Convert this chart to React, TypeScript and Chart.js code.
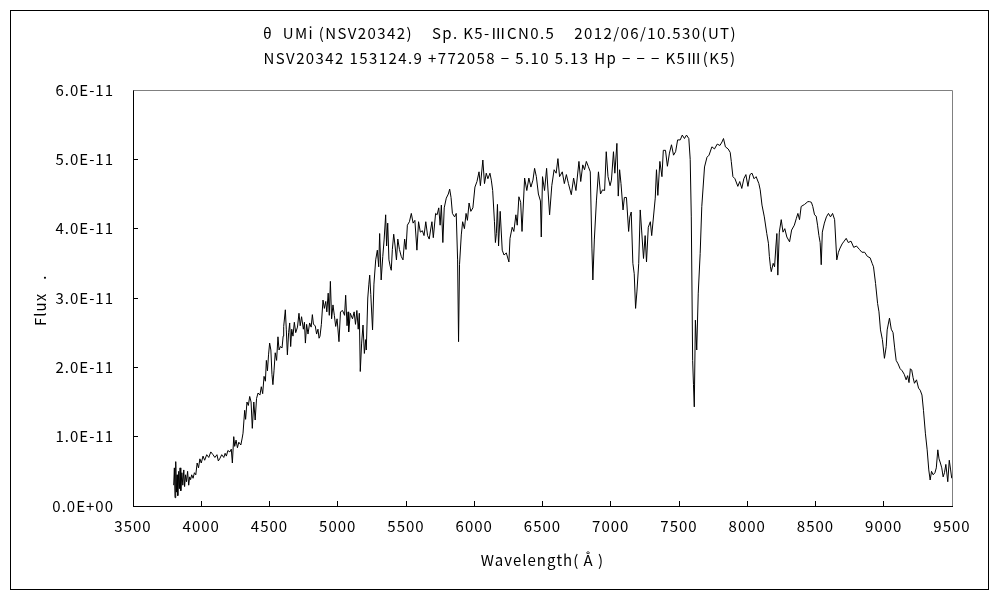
import React, { useEffect, useRef } from "react";
import { Chart, registerables } from "chart.js";

Chart.register(...registerables);

const titleLine1 = "θ  UMi (NSV20342)    Sp. K5-ⅢCN0.5    2012/06/10.530(UT)";
const titleLine2 = "NSV20342 153124.9 +772058 − 5.10 5.13 Hp − − − K5Ⅲ(K5)";
const xAxisTitle = "Wavelength( Å )";
const yAxisTitle = "Flux   .";

const xTickLabels = ["3500", "4000", "4500", "5000", "5500", "6000", "6500", "7000", "7500", "8000", "8500", "9000", "9500"];
const yTickLabels = ["0.0E+00", "1.0E-11", "2.0E-11", "3.0E-11", "4.0E-11", "5.0E-11", "6.0E-11"];

// Wavelength in Å
const wavelength = [
  3798, 3803, 3808, 3813, 3818, 3823, 3828, 3835, 3840, 3845, 3850, 3858, 3865, 3872, 3878, 3885, 3892, 3900, 3908, 3915,
  3922, 3930, 3940, 3950, 3960, 3970, 3980, 3990, 4000, 4013, 4025, 4040, 4055, 4070, 4086, 4100, 4115, 4125, 4135, 4150,
  4165, 4175, 4184, 4195, 4210, 4220, 4228, 4238, 4245, 4255, 4265, 4275, 4290, 4300, 4306, 4318, 4325, 4335, 4345, 4355,
  4365, 4374, 4385, 4395, 4405, 4416, 4430, 4440, 4450, 4460, 4470, 4477, 4485, 4493, 4501, 4510, 4518, 4525, 4533, 4542,
  4552, 4562, 4570, 4580, 4592, 4600, 4604, 4616, 4623, 4631, 4640, 4648, 4655, 4663, 4672, 4682, 4692, 4705, 4716, 4725,
  4735, 4748, 4756, 4763, 4772, 4782, 4794, 4805, 4814, 4822, 4835, 4845, 4855, 4863, 4870, 4880, 4892, 4902, 4912, 4920,
  4930, 4938, 4946, 4955, 4965, 4975, 4985, 4995, 5009, 5020, 5035, 5050, 5058, 5068, 5076, 5080, 5092, 5108, 5120, 5130,
  5140, 5150, 5158, 5165, 5175, 5185, 5195, 5205, 5209, 5220, 5228, 5234, 5242, 5255, 5265, 5278, 5290, 5300, 5307, 5318,
  5330, 5340, 5351, 5358, 5366, 5375, 5385, 5392, 5400, 5410, 5420, 5430, 5440, 5452, 5465, 5478, 5490, 5500, 5510, 5525,
  5539, 5552, 5565, 5580, 5592, 5605, 5620, 5632, 5645, 5658, 5670, 5680, 5690, 5700, 5717, 5728, 5740, 5750, 5759, 5770,
  5780, 5795, 5810, 5820, 5830, 5840, 5856, 5868, 5878, 5885, 5892, 5905, 5915, 5928, 5940, 5950, 5962, 5975, 5990, 6005,
  6020, 6035, 6045, 6063, 6075, 6088, 6100, 6115, 6125, 6135, 6148, 6155, 6162, 6170, 6178, 6190, 6205, 6218, 6235, 6254,
  6262, 6278, 6290, 6305, 6315, 6327, 6340, 6350, 6369, 6385, 6400, 6415, 6430, 6442, 6455, 6470, 6485, 6491, 6500, 6515,
  6530, 6552, 6568, 6585, 6600, 6613, 6625, 6645, 6660, 6675, 6690, 6711, 6728, 6745, 6767, 6780, 6795, 6808, 6821, 6835,
  6850, 6862, 6869, 6880, 6895, 6910, 6925, 6940, 6955, 6967, 6980, 6995, 7005, 7020, 7030, 7045, 7055, 7065, 7075, 7090,
  7100, 7115, 7131, 7140, 7150, 7162, 7172, 7182, 7192, 7205, 7216, 7226, 7240, 7252, 7262, 7275, 7290, 7300, 7326, 7335,
  7345, 7360, 7375, 7385, 7401, 7415, 7430, 7445, 7460, 7475, 7490, 7509, 7524, 7540, 7555, 7572, 7582, 7590, 7600, 7606,
  7612, 7620, 7630, 7641, 7655, 7667, 7687, 7705, 7720, 7741, 7760, 7780, 7800, 7815, 7826, 7840, 7860, 7875, 7883, 7895,
  7910, 7931, 7945, 7960, 7975, 7990, 8005, 8020, 8035, 8050, 8065, 8085, 8095, 8108, 8125, 8143, 8155, 8162, 8170, 8176,
  8190, 8200, 8210, 8217, 8224, 8235, 8249, 8262, 8275, 8290, 8310, 8325, 8345, 8360, 8371, 8383, 8395, 8420, 8444, 8456,
  8470, 8480, 8493, 8505, 8515, 8525, 8534, 8542, 8550, 8565, 8580, 8595, 8610, 8625, 8640, 8656, 8668, 8680, 8695, 8710,
  8725, 8740, 8760, 8780, 8800, 8822, 8840, 8860, 8880, 8900, 8915, 8925, 8940, 8955, 8965, 8976, 8990, 9005, 9018, 9025,
  9042, 9055, 9068, 9080, 9091, 9105, 9120, 9135, 9150, 9164, 9175, 9185, 9195, 9205, 9215, 9225, 9240, 9255, 9267, 9280,
  9291, 9305, 9318, 9330, 9340, 9350, 9362, 9375, 9385, 9396, 9405, 9415, 9425, 9435, 9445, 9455, 9469, 9480, 9490, 9498,
];

// Flux in units of 1E-11
const fluxE11 = [
  0.30, 0.55, 0.12, 0.64, 0.20, 0.45, 0.15, 0.50, 0.25, 0.55, 0.22, 0.48, 0.30, 0.52, 0.28, 0.45, 0.35, 0.50, 0.30, 0.42,
  0.38, 0.45, 0.40, 0.48, 0.45, 0.62, 0.55, 0.68, 0.62, 0.72, 0.66, 0.74, 0.70, 0.78, 0.74, 0.70, 0.74, 0.65, 0.68, 0.74,
  0.70, 0.76, 0.72, 0.80, 0.78, 0.82, 0.62, 1.00, 0.86, 0.95, 0.84, 0.92, 0.88, 0.98, 1.05, 1.38, 1.25, 1.50, 1.45, 1.58,
  1.50, 1.12, 1.50, 1.24, 1.55, 1.63, 1.60, 1.72, 1.62, 1.87, 1.80, 2.10, 1.95, 2.18, 2.35, 2.25, 1.90, 1.75, 1.95, 2.21,
  2.10, 2.44, 2.25, 2.30, 2.28, 2.45, 2.59, 2.83, 2.55, 2.18, 2.50, 2.64, 2.30, 2.55, 2.45, 2.65, 2.50, 2.58, 2.78, 2.60,
  2.73, 2.55, 2.65, 2.35, 2.62, 2.48, 2.64, 2.58, 2.76, 2.62, 2.60, 2.48, 2.55, 2.42, 2.45, 2.62, 2.97, 2.85, 2.95, 2.80,
  3.07, 2.75, 3.24, 2.70, 2.90, 2.75, 2.59, 2.70, 2.37, 2.80, 2.82, 2.75, 3.04, 2.60, 2.80, 2.51, 2.78, 2.70, 2.80, 2.62,
  2.82, 2.55, 2.78, 1.94, 2.35, 2.61, 2.20, 2.40, 2.25, 3.00, 3.20, 3.33, 3.05, 2.54, 3.20, 3.55, 3.69, 3.45, 3.93, 3.26,
  3.60, 3.85, 4.20, 3.75, 4.08, 3.55, 3.45, 3.40, 3.70, 3.92, 3.75, 3.55, 3.85, 3.70, 3.60, 3.55, 3.85, 3.70, 4.05, 4.10,
  4.22, 4.08, 4.12, 3.69, 4.10, 3.95, 3.97, 3.90, 4.10, 3.90, 3.85, 3.98, 4.10, 3.87, 4.22, 4.20, 4.30, 4.05, 4.34, 3.80,
  4.30, 4.44, 4.50, 4.57, 4.45, 4.22, 4.17, 4.22, 3.55, 2.37, 3.48, 3.91, 4.10, 4.00, 4.22, 4.12, 4.37, 4.25, 4.30, 4.60,
  4.68, 4.82, 4.62, 4.99, 4.65, 4.80, 4.72, 4.80, 4.70, 4.55, 4.10, 3.80, 3.93, 4.35, 3.75, 4.25, 3.69, 3.62, 3.65, 3.52,
  3.86, 4.02, 3.96, 4.20, 4.05, 4.46, 4.38, 3.96, 4.73, 4.55, 4.73, 4.60, 4.70, 4.87, 4.75, 4.50, 4.40, 3.88, 4.75, 4.55,
  4.87, 4.20, 4.62, 4.85, 4.80, 5.01, 4.75, 4.82, 4.65, 4.78, 4.65, 4.49, 4.73, 4.55, 4.97, 4.68, 4.92, 4.85, 4.97, 4.90,
  4.82, 3.72, 3.26, 3.85, 4.40, 4.82, 4.50, 4.56, 4.55, 5.11, 4.75, 4.62, 4.70, 5.11, 4.80, 5.23, 4.47, 4.85, 4.65, 4.27,
  4.45, 4.45, 3.96, 4.17, 4.24, 3.50, 3.35, 2.85, 3.10, 3.50, 4.27, 3.98, 3.57, 3.90, 3.52, 4.02, 4.10, 3.90, 4.44, 4.85,
  4.48, 4.97, 4.75, 5.13, 5.13, 4.90, 5.09, 5.21, 5.06, 5.11, 5.28, 5.28, 5.35, 5.30, 5.35, 5.30, 5.00, 4.17, 2.10, 1.75,
  1.43, 2.68, 2.25, 3.07, 3.64, 4.32, 4.89, 5.03, 5.06, 5.18, 5.15, 5.22, 5.20, 5.25, 5.30, 5.18, 5.15, 5.10, 4.97, 4.75,
  4.72, 4.61, 4.68, 4.58, 4.72, 4.78, 4.61, 4.78, 4.80, 4.72, 4.75, 4.65, 4.56, 4.34, 4.17, 3.93, 3.79, 3.60, 3.45, 3.38,
  3.50, 3.45, 3.75, 3.93, 3.33, 3.95, 4.13, 3.95, 4.00, 3.88, 3.81, 3.98, 4.05, 4.15, 4.22, 4.13, 4.32, 4.35, 4.39, 4.39,
  4.38, 4.32, 4.20, 4.18, 4.05, 3.90, 3.80, 3.48, 3.95, 4.08, 4.17, 4.22, 4.17, 4.22, 4.13, 3.55, 3.66, 3.72, 3.78, 3.82,
  3.86, 3.80, 3.82, 3.73, 3.75, 3.70, 3.66, 3.66, 3.60, 3.58, 3.50, 3.45, 3.21, 2.92, 2.80, 2.54, 2.40, 2.13, 2.30, 2.54,
  2.71, 2.55, 2.50, 2.28, 2.10, 2.05, 1.98, 1.95, 1.90, 1.82, 1.88, 1.78, 1.98, 1.96, 1.85, 1.77, 1.82, 1.70, 1.67, 1.60,
  1.38, 1.05, 0.81, 0.52, 0.375, 0.50, 0.45, 0.48, 0.55, 0.81, 0.68, 0.62, 0.55, 0.42, 0.48, 0.60, 0.35, 0.66, 0.52, 0.40,
];

const FONT = "'Noto Sans CJK JP', 'Noto Sans', sans-serif";

const decorPlugin = {
  id: "decor",
  beforeDraw(chart: any) {
    const ctx = chart.ctx;
    ctx.save();
    ctx.fillStyle = "#ffffff";
    ctx.fillRect(0, 0, chart.width, chart.height);
    ctx.restore();
    // slightly wider letter spacing for all tick labels
    (ctx as any).letterSpacing = "1px";
  },
  afterDraw(chart: any) {
    const ctx = chart.ctx;
    const a = chart.chartArea;
    ctx.save();
    // outer frame
    ctx.strokeStyle = "#000000";
    ctx.lineWidth = 1;
    ctx.strokeRect(10.5, 10.5, 978, 579);
    // gray top/right border of plot area
    ctx.strokeStyle = "#808080";
    ctx.beginPath();
    ctx.moveTo(Math.round(a.left) + 0.5, Math.round(a.top) + 0.5);
    ctx.lineTo(Math.round(a.right) + 0.5, Math.round(a.top) + 0.5);
    ctx.lineTo(Math.round(a.right) + 0.5, Math.round(a.bottom));
    ctx.stroke();
    // titles
    ctx.fillStyle = "#000000";
    ctx.font = `15px ${FONT}`;
    (ctx as any).letterSpacing = "1.4px";
    ctx.textAlign = "center";
    ctx.textBaseline = "middle";
    ctx.fillText(titleLine1, 500, 33);
    ctx.fillText(titleLine2, 500, 58);
    (ctx as any).letterSpacing = "1px";
    ctx.fillText(xAxisTitle, (a.left + a.right) / 2, 560);
    ctx.translate(40, 326);
    ctx.rotate(-Math.PI / 2);
    ctx.textAlign = "left";
    ctx.fillText(yAxisTitle, 0, 0);
    ctx.restore();
  },
};

export default function App() {
  const canvasRef = useRef<HTMLCanvasElement | null>(null);

  useEffect(() => {
    const canvas = canvasRef.current;
    if (!canvas) return;
    const points = wavelength.map((w, i) => ({ x: w, y: fluxE11[i] }));
    const chart = new Chart(canvas, {
      type: "line",
      data: {
        datasets: [
          {
            data: points,
            borderColor: "#000000",
            borderWidth: 1,
            pointRadius: 0,
            tension: 0,
            fill: false,
          },
        ],
      },
      options: {
        animation: false,
        responsive: false,
        devicePixelRatio: 1,
        layout: { padding: { top: 90, right: 48, left: 0, bottom: 0 } },
        plugins: {
          legend: { display: false },
          tooltip: { enabled: false },
          title: { display: false },
        },
        scales: {
          x: {
            type: "linear",
            min: 3500,
            max: 9500,
            afterFit: (s: any) => {
              s.height = 94;
            },
            afterBuildTicks: (s: any) => {
              s.ticks = xTickLabels.map((t) => ({ value: Number(t) }));
            },
            ticks: {
              callback: (_v: any, i: number) => xTickLabels[i],
              color: "#000000",
              font: { family: FONT, size: 15 },
              padding: 16,
              maxRotation: 0,
              autoSkip: false,
            },
            grid: {
              drawOnChartArea: false,
              drawTicks: true,
              tickLength: -5,
              color: "#000000",
            },
            border: { color: "#000000", width: 1 },
          },
          y: {
            type: "linear",
            min: 0,
            max: 6,
            afterFit: (s: any) => {
              s.width = 133;
            },
            afterBuildTicks: (s: any) => {
              s.ticks = yTickLabels.map((_t, i) => ({ value: i }));
            },
            ticks: {
              callback: (_v: any, i: number) => yTickLabels[i],
              color: "#000000",
              font: { family: FONT, size: 15 },
              padding: 24,
            },
            grid: {
              drawOnChartArea: false,
              drawTicks: true,
              tickLength: -5,
              color: "#000000",
            },
            border: { color: "#000000", width: 1 },
          },
        },
      },
      plugins: [decorPlugin],
    } as any);
    return () => chart.destroy();
  }, []);

  return (
    <div style={{ position: "fixed", left: 0, top: 0, width: 1000, height: 600, background: "#fff" }}>
      <canvas ref={canvasRef} width={1000} height={600} style={{ width: 1000, height: 600, display: "block" }} />
    </div>
  );
}
